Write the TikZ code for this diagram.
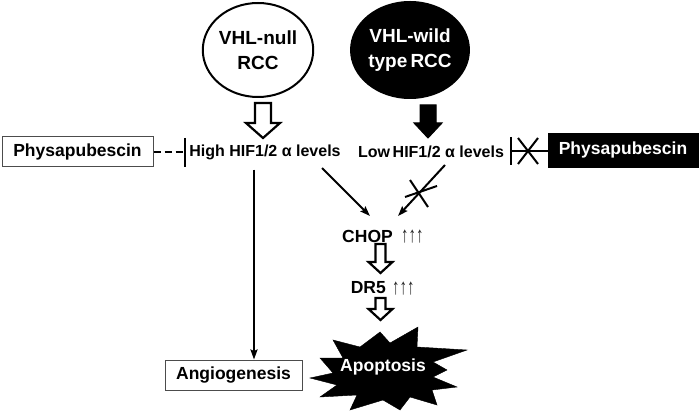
\documentclass[tikz,border=0pt]{standalone}
\usepackage{fontspec}
\usepackage{graphicx}
\setmainfont{Liberation Sans}
\usetikzlibrary{shapes.geometric,arrows.meta,calc}
\newcommand\blockarrow[6]{%
 \draw[#1] let \p1=(#2), \p2=(#3) in
 (\x1-#4pt,\y1) -- (\x1-#4pt,\y2+#6pt) -- (\x1-#5pt,\y2+#6pt) -- (\x1,\y2) --
 (\x1+#5pt,\y2+#6pt) -- (\x1+#4pt,\y2+#6pt) -- (\x1+#4pt,\y1) -- cycle;}
\begin{document}
\begin{tikzpicture}[x=1pt,y=-1pt,
 bigtxt/.style={font=\bfseries\fontsize{17.5}{21}\selectfont, inner sep=0pt},
 hiftxt/.style={font=\bfseries\fontsize{16}{19}\selectfont, inner sep=0pt},
 ups/.style={font=\fontsize{16.5}{19}\selectfont, inner sep=0pt, text=black!85},
 wbox/.style={draw=black!70, line width=1pt, fill=white, inner sep=0pt, font=\bfseries\fontsize{17.5}{21}\selectfont},
 bbox/.style={draw=black, fill=black, text=white, inner sep=0pt, font=\bfseries\fontsize{17.5}{21}\selectfont},
 ellw/.style={ellipse, draw=black, line width=2pt, fill=white, inner sep=0pt, align=center,
   font=\bfseries\fontsize{19}{25}\selectfont},
 ellb/.style={ellipse, draw=black, line width=2pt, fill=black, text=white, inner sep=0pt, align=center,
   font=\bfseries\fontsize{19}{25}\selectfont},
 conn/.style={line width=2pt, -{Stealth[length=10pt,width=7pt,inset=1.5pt]}},
 hollow/.style={draw=black, line width=2.2pt, fill=white, line join=miter},
 solidarr/.style={draw=black, line width=1pt, fill=black, line join=miter},
 bar/.style={line width=2.8pt},
 inhdash/.style={line width=2.5pt, dash pattern=on 7pt off 4pt},
 crossl/.style={line width=2pt}
]
\useasboundingbox (0,0) rectangle (700,411);
% ellipses
\node[ellw, minimum width=96pt, minimum height=94pt] (ell1) at (258,50) {VHL-null\\RCC};
\node[ellb, minimum width=104pt, minimum height=96pt] (ell2) at (410,50) {VHL-wild\\type\,RCC};
% HIF levels
\node[hiftxt] (high) at (265,152) {High HIF1/2 α levels};
\node[hiftxt] (low) at (431,152) {Low\,HIF1/2 α levels};
% boxes
\node[wbox, minimum width=151pt, minimum height=30pt] (phL) at (77.5,152) {Physapubescin};
\node[bbox, minimum width=150pt, minimum height=34pt] (phR) at (623,150) {Physapubescin};
\node[wbox, minimum width=137pt, minimum height=30pt] (ang) at (233.5,375) {Angiogenesis};
% CHOP, DR5
\node[bigtxt, anchor=east] (chop) at (393,236) {CHOP};
\node[ups, anchor=west] (chopup) at (401,237) {\scalebox{0.9}[1.35]{↑↑↑}};
\node[bigtxt, anchor=east] (dr5) at (386,288) {DR5};
\node[ups, anchor=west] (dr5up) at (392,289) {\scalebox{0.9}[1.35]{↑↑↑}};
% starburst
\draw[fill=black] (310,378) -- (333,373) -- (320,358) -- (343,358) -- (333,340) -- (360,347)
 -- (380,332) -- (390,343) -- (418,327) -- (417,347) -- (467,350) -- (433,362) -- (447,370)
 -- (433,377) -- (457,387) -- (432,390) -- (437,405) -- (410,397) -- (400,410) -- (383,400)
 -- (350,410) -- (357,395) -- (320,397) -- (337,385) -- cycle;
\node[bigtxt, text=white] (apo) at (383,367) {Apoptosis};
% block arrows
\coordinate (a1s) at (263,103); \coordinate (a1e) at (263,138);
\coordinate (a2s) at (428,105); \coordinate (a2e) at (428,138);
\coordinate (a3s) at (380.5,244); \coordinate (a3e) at (380.5,273);
\coordinate (a4s) at (380.5,298); \coordinate (a4e) at (380.5,320);
\blockarrow{hollow}{a1s}{a1e}{8}{17}{15}
\blockarrow{solidarr}{a2s}{a2e}{8}{14}{15}
\blockarrow{hollow}{a3s}{a3e}{5}{12}{11}
\blockarrow{hollow}{a4s}{a4e}{5}{12}{11}
% inhibition left
\coordinate (inhL) at (185,152);
\draw[inhdash] (phL.east) -- (inhL);
\draw[bar] (185,138) -- (185,167);
% inhibition right (crossed)
\coordinate (inhR) at (511,151);
\draw[bar] (511,137) -- (511,165);
\draw[line width=2.2pt] (inhR) -- (inhR -| phR.west);
\draw[crossl] (518,138) -- (538,164);
\draw[crossl] (518,164) -- (538,138);
% connectors
\draw[conn] ([xshift=-11pt]high.south) ++(0,10) coordinate (hv) -- ([xshift=20.5pt]ang.north);
\coordinate (d1s) at (322,168); \coordinate (d1e) at (370,216);
\draw[conn] (d1s) -- (d1e);
\coordinate (d2s) at (445,165); \coordinate (d2e) at (398,216);
\draw[conn] (d2s) -- (d2e);
\draw[crossl] (410,180) -- (428,207);
\draw[crossl] (405,197) -- (437,186);
\end{tikzpicture}
\end{document}
